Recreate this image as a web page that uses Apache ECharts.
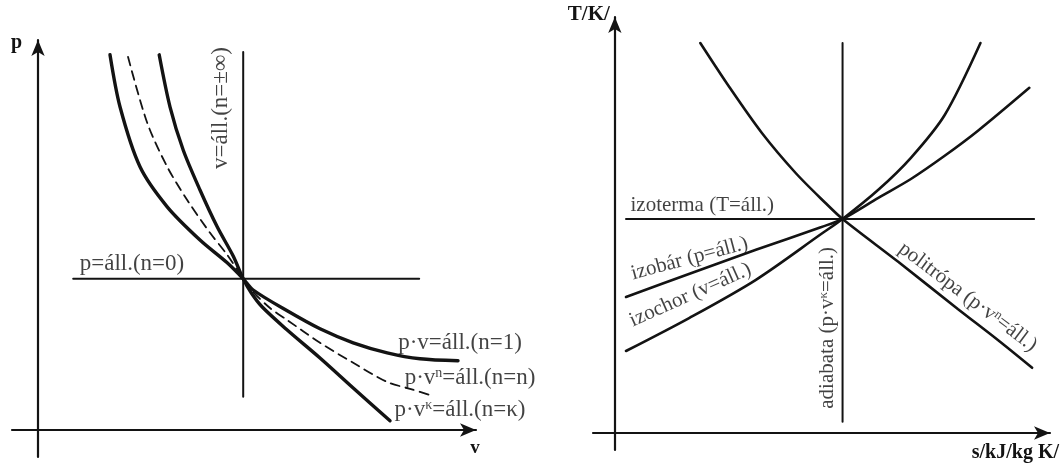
<!DOCTYPE html>
<html>
<head>
<meta charset="utf-8">
<script src="https://cdn.jsdelivr.net/npm/echarts@6/dist/echarts.min.js"></script>
<style>
  html, body { margin: 0; padding: 0; background: #fff; }
  #c { width: 1062px; height: 463px; }
</style>
</head>
<body>
<div id="c"></div>
<script>
// ---------- p–v diagram: state changes through a common point ----------
const pvIsotherm  = [[1.80,9.38],[2.05,8.08],[2.55,6.58],[3.23,5.58],[4.05,4.75],[4.73,4.18],[5.13,3.78],
                     [5.38,3.50],[6.23,2.98],[7.05,2.53],[7.88,2.18],[8.73,1.93],[9.55,1.78],[10.50,1.73]];
const pvPolytrope = [[2.25,9.33],[2.73,7.68],[3.23,6.58],[3.73,5.75],[4.30,4.93],[4.73,4.38],[5.13,3.78],
                     [5.40,3.43],[5.80,3.05],[6.23,2.75],[7.05,2.18],[7.88,1.68],[8.73,1.20],[9.30,1.03],[9.88,0.85]];
const pvAdiabat   = [[3.03,9.38],[3.30,8.08],[3.63,7.00],[4.05,6.00],[4.48,5.08],[4.88,4.35],[5.13,3.78],
                     [5.33,3.43],[5.60,3.08],[6.23,2.50],[7.05,1.80],[7.88,1.05],[8.80,0.23]];
const pvIsobar    = [[0.88,3.78],[9.53,3.78]];
const pvIsochor   = [[5.13,0.83],[5.13,9.45]];

const pvLabelTexts   = ['p=áll.(n=0)', 'v=áll.(n=±∞)', 'p·v=áll.(n=1)', 'p·v^n=áll.(n=n)', 'p·v^κ=áll.(n=κ)'];
const pvLabelAnchors = [[2.35,4.15],[4.58,8.05],[10.55,2.18],[10.80,1.30],[10.55,0.50]];
const pvLabelAngles  = [0, 90, 0, 0, 0];

// ---------- T–s diagram ----------
const tsIsotherm  = [[0.28,5.35],[10.55,5.35]];
const tsAdiabat   = [[5.73,0.28],[5.73,9.75]];
const tsIsobar    = [[0.28,3.40],[1.88,3.98],[3.55,4.58],[5.20,5.15],[5.73,5.35],[6.63,5.88],[7.45,6.35],
                     [8.30,6.93],[9.13,7.55],[10.43,8.63]];
const tsIsochor   = [[0.28,2.05],[1.88,2.88],[3.55,3.83],[5.20,4.98],[5.73,5.35],[6.63,6.08],[7.45,6.88],
                     [8.30,7.95],[9.20,9.75]];
const tsPolytrope = [[2.15,9.75],[2.88,8.65],[3.70,7.50],[4.55,6.50],[5.30,5.75],[5.73,5.35],[7.13,4.28],
                     [8.63,3.10],[9.63,2.33],[10.50,1.63]];

const tsLabelTexts   = ['izoterma (T=áll.)', 'izobár (p=áll.)', 'izochor (v=áll.)', 'adiabata (p·v^κ=áll.)', 'politrópa (p·v^n=áll.)'];
const tsLabelAnchors = [[2.20,5.68],[1.88,4.36],[1.90,3.45],[5.35,2.63],[8.88,3.40]];
const tsLabelAngles  = [0, 15, 24, 90, -37];

// ---------- styling ----------
const INK = '#131313';
const FONT = '"Liberation Serif", "Times New Roman", serif';

// "^x" marks a one-character exponent
function toRich(s) {
  return '{t|' + s.replace(/\^(.)/g, '}{s|$1}{t|') + '}';
}

function curve(gridIdx, data, width, opts) {
  opts = opts || {};
  return {
    type: 'line',
    xAxisIndex: gridIdx, yAxisIndex: gridIdx,
    data: data,
    smooth: opts.straight ? false : 0.3,
    symbol: 'none',
    silent: true,
    z: opts.straight ? 2 : 3,
    lineStyle: { color: INK, width: width, type: opts.dash || 'solid', cap: 'round' }
  };
}

function labels(gridIdx, texts, anchors, angles, size, supSize) {
  return {
    type: 'scatter',
    xAxisIndex: gridIdx, yAxisIndex: gridIdx,
    symbolSize: 0,
    silent: true,
    z: 5,
    data: anchors.map((p, i) => ({
      value: p,
      label: { rotate: angles[i], formatter: toRich(texts[i]) }
    })),
    label: {
      show: true,
      position: 'inside',
      align: 'center',
      verticalAlign: 'middle',
      color: INK,
      rich: {
        t: { fontFamily: FONT, fontSize: size, color: INK },
        s: { fontFamily: FONT, fontSize: supSize, color: INK, verticalAlign: 'top' }
      }
    }
  };
}

function xAxis(gridIdx, min, max, name, nameOpts) {
  return Object.assign({
    type: 'value', gridIndex: gridIdx, min: min, max: max,
    name: name, nameLocation: 'end',
    axisLine: { onZero: true, symbol: ['none', 'arrow'], symbolSize: [10, 16],
                lineStyle: { color: INK, width: 2.2 } },
    axisTick: { show: false }, axisLabel: { show: false }, splitLine: { show: false }
  }, nameOpts);
}
const yAxis = xAxis;

const option = {
  backgroundColor: '#fff',
  animation: false,
  textStyle: { fontFamily: FONT },
  grid: [
    { left: 12,  top: 40, width: 464, height: 417 },
    { left: 593, top: 17, width: 460, height: 433 }
  ],
  xAxis: [
    xAxis(0, -0.65, 10.95, 'v', {
      nameGap: -1,
      nameTextStyle: { fontFamily: FONT, fontWeight: 'bold', fontSize: 19, color: INK,
                       align: 'center', verticalAlign: 'top', padding: [9, 0, 0, 0] }
    }),
    xAxis(1, -0.55, 10.95, 's/kJ/kg K/', {
      nameGap: 9,
      nameTextStyle: { fontFamily: FONT, fontWeight: 'bold', fontSize: 20, color: INK,
                       align: 'right', verticalAlign: 'top', padding: [10, 0, 0, 0] }
    })
  ],
  yAxis: [
    yAxis(0, -0.675, 9.75, 'p', {
      nameGap: -3,
      nameTextStyle: { fontFamily: FONT, fontWeight: 'bold', fontSize: 20, color: INK,
                       align: 'right', verticalAlign: 'middle', padding: [0, 16, 0, 0] }
    }),
    yAxis(1, -0.425, 10.4, 'T/K/', {
      nameGap: 2,
      nameTextStyle: { fontFamily: FONT, fontWeight: 'bold', fontSize: 21, color: INK,
                       align: 'right', verticalAlign: 'middle', padding: [0, 5, 0, 0] }
    })
  ],
  series: [
    curve(0, pvIsobar, 2, { straight: true }),
    curve(0, pvIsochor, 2, { straight: true }),
    curve(0, pvIsotherm, 3.4),
    curve(0, pvPolytrope, 1.8, { dash: [9, 6] }),
    curve(0, pvAdiabat, 3.4),
    labels(0, pvLabelTexts, pvLabelAnchors, pvLabelAngles, 23, 14),

    curve(1, tsIsotherm, 2, { straight: true }),
    curve(1, tsAdiabat, 2, { straight: true }),
    curve(1, tsIsobar, 2.6),
    curve(1, tsIsochor, 2.6),
    curve(1, tsPolytrope, 2.6),
    labels(1, tsLabelTexts, tsLabelAnchors, tsLabelAngles, 21, 13)
  ]
};

const chart = echarts.init(document.getElementById('c'), null, { renderer: 'canvas' });
chart.setOption(option);
</script>
</body>
</html>
